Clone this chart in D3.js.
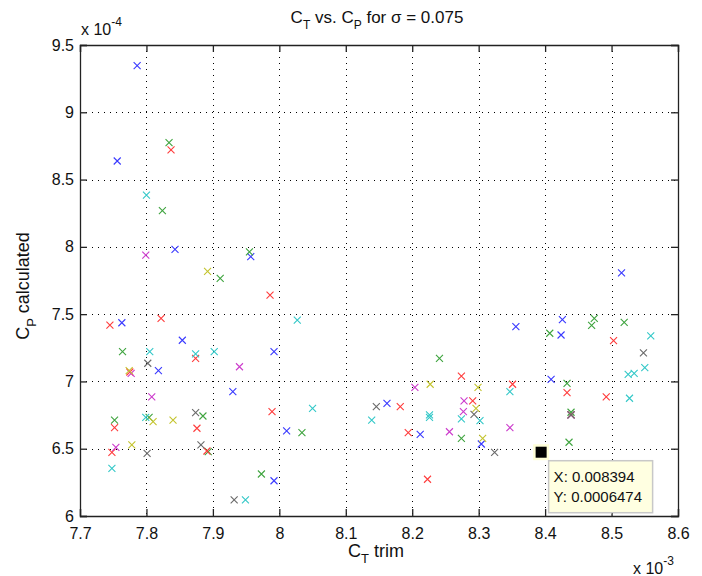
<!DOCTYPE html>
<html>
<head>
<meta charset="utf-8">
<script src="https://cdn.jsdelivr.net/npm/d3@7"></script>
<style>
  body { margin: 0; background: #fff; }
  svg { display: block; font-family: "Liberation Sans", Arial, sans-serif; }
</style>
</head>
<body>
<div id="chart"></div>
<script>
// C_T trim (x 10^-3) against C_P calculated (x 10^-4), one pair of arrays per marker colour
const blueX = [7.786, 7.756, 7.843, 7.957, 7.763, 7.854, 7.992, 7.818, 7.930, 8.011, 7.992, 8.162, 8.212, 8.304, 8.409, 8.439, 8.356, 8.426, 8.424, 8.515];
const blueY = [9.346, 8.638, 7.982, 7.927, 7.436, 7.306, 7.221, 7.080, 6.924, 6.632, 6.262, 6.837, 6.607, 6.535, 7.016, 6.751, 7.407, 7.459, 7.345, 7.806];

const greenX = [7.834, 7.824, 7.911, 7.955, 7.764, 7.752, 7.804, 7.885, 7.893, 7.973, 8.034, 8.241, 8.274, 8.433, 8.439, 8.436, 8.407, 8.474, 8.470, 8.519];
const greenY = [8.774, 8.269, 7.766, 7.962, 7.221, 6.713, 6.733, 6.743, 6.478, 6.312, 6.619, 7.172, 6.577, 6.986, 6.771, 6.548, 7.358, 7.469, 7.417, 7.439];

const redX = [7.837, 7.986, 7.745, 7.822, 7.874, 7.775, 7.989, 7.752, 7.876, 7.748, 7.891, 8.503, 8.274, 8.351, 8.433, 8.492, 8.182, 8.291, 8.439, 8.194, 8.223];
const redY = [8.720, 7.642, 7.419, 7.469, 7.172, 7.070, 6.775, 6.656, 6.652, 6.473, 6.483, 7.303, 7.040, 6.979, 6.916, 6.886, 6.812, 6.855, 6.751, 6.619, 6.273];

const cyanX = [7.800, 8.027, 7.805, 7.874, 7.902, 8.050, 8.139, 7.799, 7.748, 7.949, 8.559, 8.525, 8.534, 8.550, 8.527, 8.347, 8.226, 8.226, 8.274, 8.302];
const cyanY = [8.385, 7.456, 7.221, 7.204, 7.221, 6.800, 6.713, 6.733, 6.354, 6.119, 7.338, 7.053, 7.060, 7.102, 6.875, 6.924, 6.751, 6.733, 6.721, 6.708];

const magentaX = [7.799, 7.777, 7.940, 7.808, 7.754, 8.204, 8.278, 8.277, 8.256, 8.347];
const magentaY = [7.939, 7.060, 7.109, 6.886, 6.510, 6.956, 6.855, 6.775, 6.626, 6.656];

const yellowX = [7.892, 7.774, 7.810, 7.840, 7.778, 8.227, 8.299, 8.296, 8.306];
const yellowY = [7.818, 7.080, 6.701, 6.713, 6.528, 6.979, 6.956, 6.800, 6.577];

const grayX = [7.802, 7.801, 7.874, 7.882, 7.932, 8.146, 8.293, 8.324, 8.548, 8.439];
const grayY = [7.135, 6.466, 6.768, 6.528, 6.119, 6.812, 6.756, 6.473, 7.213, 6.751];

const xTicks = [7.7, 7.8, 7.9, 8, 8.1, 8.2, 8.3, 8.4, 8.5, 8.6];
const yTicks = [6, 6.5, 7, 7.5, 8, 8.5, 9, 9.5];

// selected data tip
const tipX = 8.394;
const tipY = 6.474;

const series = [
    { x: blueX, y: blueY, color: "#3a3aff" },
    { x: greenX, y: greenY, color: "#3fa43f" },
    { x: redX, y: redY, color: "#ff3c3c" },
    { x: cyanX, y: cyanY, color: "#33c8c8" },
    { x: magentaX, y: magentaY, color: "#cc3ccc" },
    { x: yellowX, y: yellowY, color: "#c4c42e" },
    { x: grayX, y: grayY, color: "#6a6a6a" }
];

const W = 702, H = 576;
const margin = { top: 45, right: 24, bottom: 60, left: 80 };
const width = W - margin.left - margin.right;
const height = H - margin.top - margin.bottom;

const root = d3.select("#chart")
    .append("svg")
    .attr("width", W)
    .attr("height", H);

root.append("rect").attr("width", W).attr("height", H).attr("fill", "#fff");

const svg = root.append("g")
    .attr("transform", `translate(${margin.left},${margin.top})`);

const x = d3.scaleLinear().domain([7.7, 8.6]).range([0, width]);
const y = d3.scaleLinear().domain([6, 9.5]).range([height, 0]);

// Dotted grid
const grid = svg.append("g")
    .attr("stroke", "#000")
    .attr("stroke-width", 1)
    .attr("stroke-dasharray", "1,5");
grid.selectAll(".gx")
    .data(xTicks.slice(1, -1))
    .enter().append("line")
    .attr("x1", d => Math.round(x(d)) + 0.5).attr("x2", d => Math.round(x(d)) + 0.5)
    .attr("y1", 0).attr("y2", height);
grid.selectAll(".gy")
    .data(yTicks.slice(1, -1))
    .enter().append("line")
    .attr("y1", d => Math.round(y(d)) + 0.5).attr("y2", d => Math.round(y(d)) + 0.5)
    .attr("x1", 0).attr("x2", width);

// Axes with inward ticks on all four sides
const fmt = d => String(d);
const xAxis = svg.append("g")
    .attr("transform", `translate(0,${height})`)
    .call(d3.axisBottom(x).tickValues(xTicks).tickSize(-7).tickPadding(12).tickFormat(fmt));
const yAxis = svg.append("g")
    .call(d3.axisLeft(y).tickValues(yTicks).tickSize(-7).tickPadding(6).tickFormat(fmt));
const xTop = svg.append("g")
    .call(d3.axisTop(x).tickValues(xTicks).tickSize(-7).tickFormat(""));
const yRight = svg.append("g")
    .attr("transform", `translate(${width},0)`)
    .call(d3.axisRight(y).tickValues(yTicks).tickSize(-7).tickFormat(""));

[xAxis, yAxis, xTop, yRight].forEach(a => {
    a.select(".domain").attr("stroke", "#222").attr("stroke-width", 1.3);
    a.selectAll(".tick line").attr("stroke", "#222").attr("stroke-width", 1.3);
    a.selectAll(".tick text")
        .attr("fill", "#111")
        .style("font-size", "16px")
        .style("font-family", "\"Liberation Sans\", Arial, sans-serif");
});

// x markers
const r = 3.5;
series.forEach(s => {
    const pts = s.x.map((v, i) => [v, s.y[i]]);
    svg.append("g")
        .selectAll("path")
        .data(pts)
        .enter().append("path")
        .attr("d", d => {
            const cx = x(d[0]), cy = y(d[1]);
            return `M${cx - r},${cy - r}L${cx + r},${cy + r}M${cx - r},${cy + r}L${cx + r},${cy - r}`;
        })
        .attr("fill", "none")
        .attr("stroke", s.color)
        .attr("stroke-width", 1.1);
});

// Data tip
const tx = x(tipX), ty = y(tipY);
svg.append("rect")
    .attr("x", tx - 8).attr("y", ty - 8).attr("width", 16).attr("height", 16)
    .attr("fill", "#ffffd8");
svg.append("rect")
    .attr("x", tx - 5.5).attr("y", ty - 5.5).attr("width", 11).attr("height", 11)
    .attr("fill", "#000");
const tipG = svg.append("g").attr("transform", `translate(${tx + 7.5},${ty + 8.5})`);
tipG.append("rect")
    .attr("width", 104).attr("height", 52)
    .attr("fill", "#ffffe1")
    .attr("stroke", "#c8c8c8")
    .attr("stroke-width", 1.5);
tipG.append("text")
    .attr("x", 5).attr("y", 21)
    .style("font-size", "15px").attr("fill", "#111")
    .text("X: " + (tipX / 1000).toFixed(6));
tipG.append("text")
    .attr("x", 5).attr("y", 41)
    .style("font-size", "15px").attr("fill", "#111")
    .text("Y: " + (tipY / 10000).toFixed(7));

// Title and labels
const title = root.append("text")
    .attr("x", 377).attr("y", 23)
    .attr("text-anchor", "middle")
    .style("font-size", "17px").attr("fill", "#111");
title.append("tspan").text("C");
title.append("tspan").attr("dy", 6).style("font-size", "12px").text("T");
title.append("tspan").attr("dy", -6).text(" vs. C");
title.append("tspan").attr("dy", 6).style("font-size", "12px").text("P");
title.append("tspan").attr("dy", -6).text(" for \u03c3 = 0.075");

const xLabel = root.append("text")
    .attr("x", 376).attr("y", 557)
    .attr("text-anchor", "middle")
    .style("font-size", "18px").attr("fill", "#111");
xLabel.append("tspan").text("C");
xLabel.append("tspan").attr("dy", 6).style("font-size", "13px").text("T");
xLabel.append("tspan").attr("dy", -6).text(" trim");

const yLabel = root.append("text")
    .attr("transform", "translate(29,286) rotate(-90)")
    .attr("text-anchor", "middle")
    .style("font-size", "18px").attr("fill", "#111");
yLabel.append("tspan").text("C");
yLabel.append("tspan").attr("dy", 7).style("font-size", "13px").text("P");
yLabel.append("tspan").attr("dy", -7).text(" calculated");

// Exponent labels
const ex4 = root.append("text").attr("x", 81).attr("y", 35)
    .style("font-size", "16px").attr("fill", "#111");
ex4.append("tspan").text("x 10");
ex4.append("tspan").attr("dy", -9).style("font-size", "12px").text("-4");

const ex3 = root.append("text").attr("x", 633).attr("y", 574)
    .style("font-size", "16px").attr("fill", "#111");
ex3.append("tspan").text("x 10");
ex3.append("tspan").attr("dy", -9).style("font-size", "12px").text("-3");
</script>
</body>
</html>
